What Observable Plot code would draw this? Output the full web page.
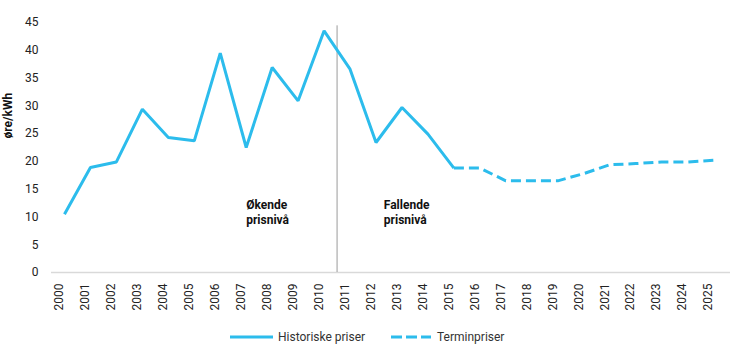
<!DOCTYPE html>
<html>
<head>
<meta charset="utf-8">
<script src="https://cdn.jsdelivr.net/npm/d3@7"></script>
<script src="https://cdn.jsdelivr.net/npm/@observablehq/plot@0.6"></script>
<style>
  html, body { margin: 0; padding: 0; background: #fff; }
  body { width: 730px; height: 359px; overflow: hidden; font-family: Roboto, sans-serif; }
  #legend { position: relative; height: 30px; font-size: 12px; color: #333; }
  .item { position: absolute; top: 0; height: 30px; display: flex; align-items: center; }
  .item svg { margin-right: 5px; }
</style>
</head>
<body>
<div id="chart"></div>
<div id="legend">
  <div class="item" style="left:230px">
    <svg width="43" height="6"><line x1="0" y1="3" x2="43" y2="3" stroke="#2cbcec" stroke-width="3"/></svg>
    <span>Historiske priser</span>
  </div>
  <div class="item" style="left:391px">
    <svg width="40" height="6" style="margin-right:6px"><line x1="0" y1="3" x2="40" y2="3" stroke="#2cbcec" stroke-width="3" stroke-dasharray="11 4"/></svg>
    <span>Terminpriser</span>
  </div>
</div>
<script>
// Data
const years = d3.range(2000, 2026);
const historiskeYears = d3.range(2000, 2016);
const historiskeValues = [10.5, 18.9, 19.9, 29.4, 24.3, 23.7, 39.5, 22.5, 36.9, 30.9, 43.5, 36.6, 23.4, 29.7, 24.9, 18.8];
const terminYears = d3.range(2015, 2026);
const terminValues = [18.8, 18.8, 16.5, 16.5, 16.5, 17.8, 19.4, 19.6, 19.9, 19.9, 20.2];
const yTicks = [0, 5, 10, 15, 20, 25, 30, 35, 40, 45];
const splitYear = 2010.5;
const splitTop = 44.4;
const annotationTexts = ["Økende\nprisnivå", "Fallende\nprisnivå"];
const annotationYears = [2007, 2012.3];
const annotationValues = [13.3, 13.3];
const yLabel = "øre/kWh";

const hist = historiskeYears.map((x, i) => ({x, y: historiskeValues[i]}));
const term = terminYears.map((x, i) => ({x, y: terminValues[i]}));
const notes = annotationTexts.map((t, i) => ({text: t, x: annotationYears[i], y: annotationValues[i]}));

const blue = "#2cbcec";

const chart = Plot.plot({
  width: 730,
  height: 322,
  marginLeft: 51,
  marginRight: 4,
  marginTop: 22,
  marginBottom: 50,
  x: {domain: [1999.5, 2025.5]},
  y: {domain: [0, 45]},
  style: {fontFamily: "Roboto, sans-serif", fontSize: "12px", color: "#222", background: "#fff"},
  marks: [
    Plot.axisY({ticks: yTicks, tickSize: 0, tickPadding: 13, label: null, fontSize: 12}),
    Plot.axisX({ticks: years, tickFormat: d => String(d), tickRotate: -90, tickSize: 0, tickPadding: 11, dx: -5, label: null, fontSize: 12}),
    Plot.ruleY([0], {stroke: "#d9d9d9", strokeWidth: 1.5, insetRight: -4}),
    Plot.ruleX([splitYear], {y1: 0, y2: splitTop, stroke: "#9a9a9a", strokeWidth: 1}),
    Plot.line(hist, {x: "x", y: "y", stroke: blue, strokeWidth: 3, strokeLinejoin: "miter", strokeLinecap: "butt"}),
    Plot.line(term, {x: "x", y: "y", stroke: blue, strokeWidth: 3, strokeDasharray: "10 5", strokeLinecap: "butt"}),
    Plot.text(notes, {x: "x", y: "y", text: "text", textAnchor: "start", lineAnchor: "top", fontWeight: "bold", lineHeight: 1.25, fontSize: 12, fill: "#111"}),
    Plot.text([yLabel], {frameAnchor: "left", rotate: -90, dx: -43, dy: -9, fontWeight: "bold", fontSize: 12, fill: "#111"})
  ]
});
document.getElementById("chart").appendChild(chart);
</script>
</body>
</html>
